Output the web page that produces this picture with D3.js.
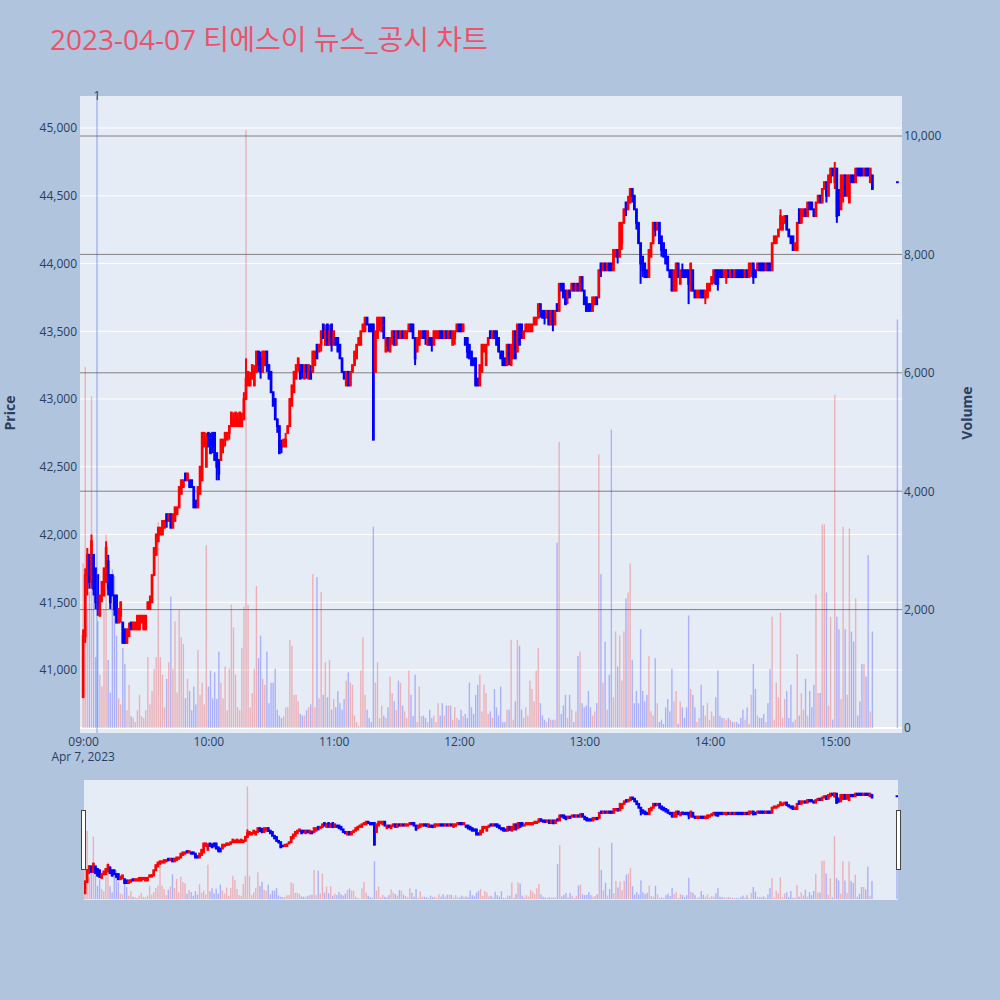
<!DOCTYPE html>
<html><head><meta charset="utf-8">
<script src="https://cdn.jsdelivr.net/npm/d3@7"></script>
<style>body{margin:0;background:#b0c4de;}svg{display:block;font-family:"Open Sans","Noto Sans CJK KR",sans-serif;}</style>
</head><body><svg id="c" width="1000" height="1000"></svg>
<script>
const titleText = "2023-04-07 티에스이 뉴스_공시 차트";
const priceTicks = [41000,41500,42000,42500,43000,43500,44000,44500,45000];
const volumeTicks = [0,2000,4000,6000,8000,10000];
const newsMinutes = [6.65];
const newsLabels = ["1"];
// minutes after 09:00 for each candle (09:00 .. 15:18 continuous, then 15:30 closing auction)
const minuteOffsets = d3.range(379).concat([390]);

const open = [
40800,41250,41700,41850,41650,41850,41750,41700,41400,41550,
41550,41650,41800,41700,41700,41550,41550,41350,41400,41350,
41300,41200,41250,41350,41300,41300,41300,41300,41350,41300,
41300,41450,41450,41500,41700,41850,41950,42000,42000,42050,
42150,42100,42150,42050,42100,42150,42200,42300,42350,42450,
42400,42400,42400,42350,42250,42200,42300,42400,42650,42500,
42750,42700,42750,42750,42600,42550,42550,42650,42700,42700,
42750,42800,42800,42800,42800,42800,42800,42850,43000,43100,
43100,43150,43100,43200,43350,43300,43200,43250,43350,43250,
43200,43050,43000,42850,42800,42650,42650,42650,42750,42800,
42950,43050,43150,43250,43250,43250,43150,43250,43150,43200,
43200,43250,43400,43350,43400,43550,43400,43550,43400,43550,
43400,43450,43450,43400,43300,43200,43100,43200,43100,43200,
43250,43300,43400,43400,43500,43500,43600,43550,43550,43550,
43200,43450,43550,43500,43600,43350,43450,43350,43450,43500,
43400,43500,43450,43500,43450,43450,43500,43550,43550,43450,
43350,43400,43450,43500,43500,43400,43450,43450,43400,43450,
43450,43500,43500,43450,43500,43450,43500,43400,43450,43500,
43550,43550,43500,43450,43450,43400,43350,43300,43300,43150,
43100,43200,43350,43250,43400,43500,43450,43500,43500,43450,
43350,43350,43300,43250,43400,43250,43300,43500,43350,43550,
43550,43450,43500,43500,43500,43500,43550,43550,43600,43700,
43650,43650,43600,43650,43550,43650,43550,43700,43650,43850,
43850,43800,43750,43800,43800,43850,43800,43850,43800,43900,
43800,43750,43700,43700,43650,43700,43750,43750,44000,43950,
44000,43950,44000,44000,43950,44050,44100,44050,44150,44300,
44450,44400,44450,44550,44500,44400,44300,44150,44050,44000,
43950,43900,44050,44150,44300,44250,44300,44200,44150,44100,
44050,43950,43950,43800,43800,44000,43850,43950,43950,43950,
43950,43800,43950,43800,43750,43750,43800,43800,43750,43750,
43800,43850,43900,43950,43950,43950,43950,43900,43900,43950,
43900,43950,43900,43950,43950,43950,43950,43900,43950,43900,
43950,44000,43950,43950,44000,44000,44000,43950,44000,44000,
43950,44150,44150,44200,44250,44250,44300,44350,44250,44200,
44200,44100,44100,44400,44300,44350,44400,44350,44450,44450,
44400,44350,44450,44500,44450,44550,44600,44500,44600,44700,
44600,44700,44450,44400,44500,44650,44500,44450,44650,44650,
44600,44700,44700,44700,44650,44700,44700,44600,44650,
44600];

const high = [
41300,41750,41900,41850,42000,41850,41750,41700,41550,41650,
41750,41950,41850,41700,41700,41550,41550,41450,41500,41350,
41300,41300,41350,41350,41350,41350,41400,41400,41400,41400,
41400,41500,41550,41700,41900,42000,42050,42050,42100,42100,
42150,42150,42150,42150,42200,42200,42350,42400,42400,42450,
42450,42400,42400,42350,42250,42350,42500,42750,42750,42750,
42750,42750,42750,42750,42600,42550,42700,42700,42750,42750,
42800,42900,42900,42900,42900,42900,42900,43050,43300,43200,
43200,43250,43250,43350,43350,43350,43350,43350,43350,43250,
43200,43050,43000,42850,42800,42700,42700,42750,42800,43000,
43100,43200,43250,43300,43250,43250,43250,43250,43250,43250,
43350,43350,43400,43400,43500,43550,43550,43550,43550,43550,
43500,43450,43450,43400,43300,43200,43200,43200,43200,43250,
43350,43400,43450,43500,43550,43600,43600,43550,43550,43550,
43500,43600,43600,43600,43600,43450,43450,43450,43500,43500,
43500,43500,43500,43500,43500,43500,43550,43550,43550,43450,
43450,43500,43500,43500,43500,43500,43450,43450,43500,43500,
43500,43500,43500,43500,43500,43500,43500,43500,43500,43550,
43550,43550,43550,43450,43450,43400,43350,43300,43300,43150,
43250,43400,43400,43400,43450,43500,43500,43500,43500,43450,
43350,43350,43300,43400,43400,43400,43500,43500,43550,43550,
43550,43500,43550,43550,43550,43550,43600,43600,43700,43700,
43650,43650,43650,43650,43650,43650,43650,43700,43850,43850,
43850,43800,43800,43800,43850,43850,43850,43850,43900,43900,
43800,43750,43700,43700,43750,43750,43750,43950,44000,44000,
44000,44000,44000,44000,44100,44100,44100,44300,44300,44400,
44450,44500,44550,44550,44500,44400,44300,44150,44050,44000,
43950,44100,44150,44300,44300,44300,44300,44200,44150,44100,
44050,43950,43950,43950,44000,44000,43950,44000,43950,43950,
43950,44000,43950,43800,43800,43800,43800,43800,43800,43850,
43850,43900,43950,43950,43950,43950,43950,43950,43950,43950,
43950,43950,43950,43950,43950,43950,43950,43950,43950,44000,
44000,44000,43950,44000,44000,44000,44000,44000,44000,44000,
44150,44200,44200,44250,44400,44350,44350,44350,44250,44200,
44200,44150,44300,44400,44400,44400,44400,44450,44450,44450,
44400,44450,44500,44500,44550,44600,44600,44650,44700,44700,
44750,44700,44550,44650,44650,44650,44650,44650,44650,44650,
44700,44700,44700,44700,44700,44700,44700,44700,44650,
44600];

const low = [
40800,41200,41550,41600,41600,41550,41450,41400,41400,41500,
41550,41650,41550,41450,41550,41400,41350,41350,41350,41200,
41200,41200,41250,41300,41300,41300,41300,41300,41350,41300,
41300,41450,41450,41500,41700,41850,41950,42000,42000,42050,
42050,42100,42050,42050,42100,42150,42200,42300,42350,42400,
42400,42350,42350,42200,42200,42200,42300,42400,42650,42500,
42650,42600,42600,42550,42400,42400,42550,42600,42650,42700,
42700,42800,42800,42800,42800,42800,42800,42850,43000,43100,
43100,43150,43100,43200,43200,43150,43200,43250,43200,43150,
43050,42950,42850,42750,42600,42600,42650,42650,42750,42800,
42950,43050,43150,43200,43150,43150,43150,43150,43150,43150,
43200,43250,43300,43350,43350,43450,43400,43400,43400,43350,
43400,43400,43350,43300,43200,43150,43100,43100,43100,43200,
43250,43300,43400,43400,43500,43500,43550,43500,43500,42700,
43200,43450,43500,43500,43450,43350,43350,43350,43400,43400,
43400,43450,43450,43450,43450,43450,43500,43500,43450,43250,
43350,43400,43450,43450,43400,43400,43400,43350,43400,43450,
43450,43450,43450,43450,43450,43450,43450,43400,43400,43500,
43500,43500,43500,43400,43300,43300,43250,43250,43100,43100,
43100,43200,43350,43250,43400,43450,43450,43450,43400,43350,
43300,43250,43250,43250,43250,43250,43300,43300,43350,43400,
43450,43450,43500,43500,43500,43500,43550,43550,43600,43600,
43600,43550,43600,43550,43550,43500,43550,43650,43650,43800,
43750,43700,43700,43750,43800,43800,43800,43800,43800,43800,
43700,43650,43650,43650,43650,43700,43700,43750,43900,43950,
43950,43950,43950,43950,43950,44050,44000,44050,44100,44300,
44350,44400,44450,44450,44400,44250,44150,43850,43900,43900,
43900,43900,44050,44150,44200,44250,44150,44050,44050,44000,
43950,43900,43800,43800,43800,43900,43850,43900,43900,43900,
43700,43800,43800,43750,43750,43750,43750,43750,43700,43750,
43800,43850,43850,43850,43800,43900,43900,43900,43850,43900,
43900,43900,43900,43900,43900,43900,43900,43900,43900,43900,
43900,43850,43900,43950,43950,43950,43950,43950,43950,43950,
43950,44150,44150,44200,44250,44250,44300,44250,44200,44150,
44100,44100,44100,44300,44300,44350,44350,44350,44400,44400,
44350,44350,44450,44450,44450,44550,44450,44500,44600,44650,
44550,44300,44350,44400,44450,44500,44500,44450,44600,44600,
44600,44650,44650,44650,44650,44650,44650,44600,44550,
44600];

const close = [
41250,41700,41850,41650,41950,41600,41500,41450,41550,41650,
41750,41900,41600,41500,41550,41450,41350,41450,41500,41200,
41200,41300,41300,41300,41350,41350,41400,41400,41400,41400,
41400,41500,41500,41700,41900,42000,42050,42050,42100,42100,
42100,42150,42050,42150,42200,42200,42350,42400,42400,42400,
42450,42350,42350,42200,42200,42350,42500,42750,42750,42700,
42650,42600,42650,42550,42500,42450,42700,42700,42750,42750,
42800,42900,42850,42900,42850,42900,42850,43000,43150,43200,
43150,43250,43200,43350,43250,43200,43350,43350,43250,43150,
43050,42950,42850,42800,42600,42650,42700,42700,42800,43000,
43100,43200,43250,43300,43150,43200,43250,43200,43250,43150,
43350,43350,43300,43400,43500,43450,43500,43400,43500,43400,
43500,43400,43350,43300,43200,43150,43200,43100,43200,43250,
43350,43400,43450,43500,43550,43600,43550,43500,43500,42700,
43500,43600,43600,43600,43450,43450,43400,43450,43500,43400,
43500,43450,43500,43450,43500,43500,43550,43500,43450,43300,
43450,43500,43500,43450,43450,43500,43400,43400,43500,43500,
43500,43450,43450,43500,43450,43500,43450,43500,43500,43550,
43500,43500,43550,43400,43350,43300,43250,43250,43100,43100,
43250,43400,43400,43400,43450,43450,43500,43450,43400,43350,
43300,43250,43250,43400,43300,43400,43500,43300,43550,43400,
43450,43500,43550,43550,43550,43550,43600,43600,43700,43650,
43600,43600,43650,43550,43650,43550,43650,43650,43850,43800,
43750,43700,43800,43750,43850,43800,43850,43800,43900,43800,
43700,43650,43650,43650,43750,43750,43700,43950,43950,44000,
43950,44000,43950,43950,44100,44100,44050,44300,44300,44400,
44400,44450,44550,44500,44400,44300,44150,44000,43950,43900,
43900,44100,44150,44300,44250,44300,44150,44100,44050,44000,
43950,43900,43800,43950,44000,43900,43950,43900,43900,43900,
43850,44000,43800,43750,43800,43800,43750,43750,43800,43850,
43850,43900,43950,43850,43850,43900,43900,43950,43950,43900,
43950,43900,43950,43900,43900,43900,43900,43950,43900,44000,
44000,43900,43900,44000,43950,43950,43950,44000,43950,43950,
44150,44200,44200,44250,44350,44300,44350,44250,44200,44150,
44100,44150,44300,44300,44400,44400,44350,44450,44400,44400,
44350,44450,44500,44450,44550,44600,44500,44650,44700,44650,
44700,44350,44400,44650,44650,44500,44650,44650,44600,44600,
44700,44650,44650,44650,44700,44650,44650,44700,44550,
44600];

const volume = [
2780,6100,2000,2300,5600,2300,1200,1800,900,700,
2000,3270,1150,600,2680,2570,1560,500,400,1350,
1080,300,730,200,170,100,300,560,200,170,
300,1200,400,625,1000,1200,3475,1200,900,350,
830,1110,2220,1000,1800,600,2000,1530,1420,500,
830,625,300,700,400,1320,560,765,400,3090,
700,970,500,940,490,1290,765,500,1040,300,
1000,2085,1700,900,350,300,1355,2050,10100,2080,
350,590,1000,2400,1180,1560,830,730,1290,420,
765,765,1000,310,210,170,200,350,350,1490,
1390,560,560,450,240,210,210,300,350,400,
2600,350,2550,500,2300,560,1110,520,1150,310,
490,350,625,420,310,490,800,940,765,730,
210,100,35,970,1530,560,310,170,100,3400,
765,1110,170,380,210,170,350,870,590,450,
300,800,765,380,280,170,970,560,200,900,
100,700,200,210,170,100,310,170,210,100,
420,210,420,210,380,380,380,140,350,170,
140,310,200,240,170,765,350,240,560,730,
900,280,730,590,240,280,170,660,350,210,
700,100,100,310,310,1490,140,450,1490,1390,
310,170,350,210,800,660,450,970,1355,420,
210,140,100,170,140,140,140,3130,4830,240,
380,560,170,560,310,100,280,1215,1290,420,
350,380,625,350,210,280,420,4620,2600,765,
1460,310,900,5040,520,1630,1040,1560,800,1630,
2190,2290,2780,1150,420,625,420,1670,625,450,
560,1215,280,210,1180,420,100,140,70,350,
490,280,1000,450,625,70,450,350,170,350,
1900,660,560,350,100,170,730,380,210,420,
140,280,200,520,970,210,170,170,140,170,
140,100,100,100,70,170,310,140,350,70,
560,1080,660,210,170,170,240,100,420,1000,
1880,140,765,520,1950,170,490,625,170,730,
100,140,1250,210,590,310,830,210,625,350,
730,2260,590,590,3440,3440,2290,380,1880,140,
5630,1880,1670,490,3400,1670,560,3370,1630,1460,
2190,210,450,1080,1080,870,2920,280,1630,
6900];

// ---------- layout ----------
const W = 1000, H = 1000;
const INC = "#ff0000", DEC = "#0000ff";
const INC_V = "rgba(255,0,0,0.25)", DEC_V = "rgba(0,0,255,0.25)";
const AXIS_COL = "#2a3f5f";
const plot = {l: 80, r: 902, t: 96, b: 733};
const slider = {l: 84, r: 898, t: 780, b: 900};

const toDate = m => new Date(2023, 3, 7, 9, 0, 0, Math.round(m * 60000));
const N = Math.min(open.length, high.length, low.length, close.length, volume.length, minuteOffsets.length);
const rows = d3.range(N).map(i => ({t: toDate(minuteOffsets[i]), o: open[i], h: high[i], l: low[i], c: close[i], v: volume[i]}));
const colOf = d => d.c > d.o ? INC : DEC;
const vColOf = d => d.c > d.o ? INC_V : DEC_V;

const x = d3.scaleTime().domain([toDate(-1.5), toDate(392.2)]).range([plot.l, plot.r]);
const y = d3.scaleLinear().domain([41000, 45000]).range([670, 128]);
const yv = d3.scaleLinear().domain([0, 10000]).range([728, 136]);

const sx = d3.scaleTime().domain([toDate(-0.5), toDate(390.5)]).range([slider.l, slider.r]);
const sy = d3.scaleLinear().domain([y.invert(plot.b), y.invert(plot.t)]).range([slider.b, slider.t]);
const syv = d3.scaleLinear().domain([yv.invert(plot.b), yv.invert(plot.t)]).range([slider.b, slider.t]);

const svg = d3.select("#c");
svg.append("rect").attr("width", W).attr("height", H).attr("fill", "#b0c4de");

const defs = svg.append("defs");
defs.append("clipPath").attr("id", "cp").append("rect")
  .attr("x", plot.l).attr("y", plot.t).attr("width", plot.r - plot.l).attr("height", plot.b - plot.t);
defs.append("clipPath").attr("id", "cs").append("rect")
  .attr("x", slider.l).attr("y", slider.t).attr("width", slider.r - slider.l).attr("height", slider.b - slider.t);

// title
svg.append("text").attr("x", 50).attr("y", 50).attr("font-size", 28)
  .attr("fill", "rgb(236,83,106)").text(titleText);

// plot background
svg.append("rect").attr("x", plot.l).attr("y", plot.t).attr("width", plot.r - plot.l)
  .attr("height", plot.b - plot.t).attr("fill", "#e5ecf6");

const gp = svg.append("g").attr("clip-path", "url(#cp)");
// price grid (white)
gp.selectAll("line.pg").data(priceTicks).join("line")
  .attr("x1", plot.l).attr("x2", plot.r).attr("y1", d => y(d)).attr("y2", d => y(d))
  .attr("stroke", "#ffffff").attr("stroke-width", 1);
// volume grid (gray), zero line white
gp.selectAll("line.vg").data(volumeTicks).join("line")
  .attr("x1", plot.l).attr("x2", plot.r).attr("y1", d => yv(d)).attr("y2", d => yv(d))
  .attr("stroke", d => d === 0 ? "#ffffff" : "#808080").attr("stroke-width", d => d === 0 ? 2 : 1);

function drawCandles(g, xs, ys) {
  g.selectAll("line.w").data(rows).join("line")
    .attr("x1", d => xs(d.t)).attr("x2", d => xs(d.t))
    .attr("y1", d => ys(d.h)).attr("y2", d => ys(d.l))
    .attr("stroke", colOf).attr("stroke-width", 2);
  g.selectAll("rect.b").data(rows).join("rect")
    .attr("x", d => xs(d.t) - 1.35).attr("width", 2.7)
    .attr("y", d => Math.min(ys(d.o), ys(d.c)) - 1)
    .attr("height", d => Math.abs(ys(d.o) - ys(d.c)) + 2)
    .attr("fill", colOf);
}
function drawVolume(g, xs, ys) {
  g.selectAll("rect.v").data(rows).join("rect")
    .attr("x", d => xs(d.t) - 0.7).attr("width", 1.4)
    .attr("y", d => ys(d.v)).attr("height", d => ys(0) - ys(d.v))
    .attr("fill", vColOf);
}

drawCandles(gp.append("g"), x, y);
drawVolume(gp.append("g"), x, yv);

// news marker line
newsMinutes.forEach((m, i) => {
  const xx = x(toDate(m));
  gp.append("line").attr("x1", xx).attr("x2", xx).attr("y1", plot.t).attr("y2", plot.b)
    .attr("stroke", "rgba(65,105,225,0.3)").attr("stroke-width", 2);
  svg.append("text").attr("x", xx).attr("y", 100).attr("text-anchor", "middle")
    .attr("font-size", 12).attr("fill", AXIS_COL).text(newsLabels[i]);
});

// axes
const fmtNum = d3.format(",");
const ax = svg.append("g").attr("transform", `translate(${plot.l},0)`)
  .call(d3.axisLeft(y).tickValues(priceTicks).tickFormat(fmtNum).tickSize(0).tickPadding(3));
const axr = svg.append("g").attr("transform", `translate(${plot.r},0)`)
  .call(d3.axisRight(yv).tickValues(volumeTicks).tickFormat(fmtNum).tickSize(0).tickPadding(2));
const hourTicks = d3.timeHour.range(toDate(0), toDate(361));
const axb = svg.append("g").attr("transform", `translate(0,${plot.b})`)
  .call(d3.axisBottom(x).tickValues(hourTicks).tickFormat(d3.timeFormat("%H:%M")).tickSize(0).tickPadding(4.5));
[ax, axr, axb].forEach(a => {
  a.select(".domain").remove();
  a.selectAll("text").attr("font-size", 12).attr("fill", AXIS_COL).attr("font-family", "Open Sans");
});
svg.append("text").attr("x", x(toDate(0))).attr("y", 761).attr("text-anchor", "middle")
  .attr("font-size", 12).attr("fill", AXIS_COL).text(d3.timeFormat("%b %-d, %Y")(toDate(0)));

svg.append("text").attr("transform", "translate(14.5,413) rotate(-90)").attr("text-anchor", "middle")
  .attr("font-size", 14).attr("font-weight", "bold").attr("fill", AXIS_COL).text("Price");
svg.append("text").attr("transform", "translate(971.5,413) rotate(-90)").attr("text-anchor", "middle")
  .attr("font-size", 14).attr("font-weight", "bold").attr("fill", AXIS_COL).text("Volume");

// range slider
svg.append("rect").attr("x", slider.l).attr("y", slider.t).attr("width", slider.r - slider.l)
  .attr("height", slider.b - slider.t).attr("fill", "#e5ecf6");
const gs = svg.append("g").attr("clip-path", "url(#cs)");
drawCandles(gs.append("g"), sx, sy);
drawVolume(gs.append("g"), sx, syv);
[[81.5], [896.5]].forEach(([hx]) => {
  svg.append("rect").attr("x", hx).attr("y", 810.5).attr("width", 4).attr("height", 59)
    .attr("fill", "#ffffff").attr("stroke", "#444").attr("stroke-width", 1);
});
</script></body></html>
